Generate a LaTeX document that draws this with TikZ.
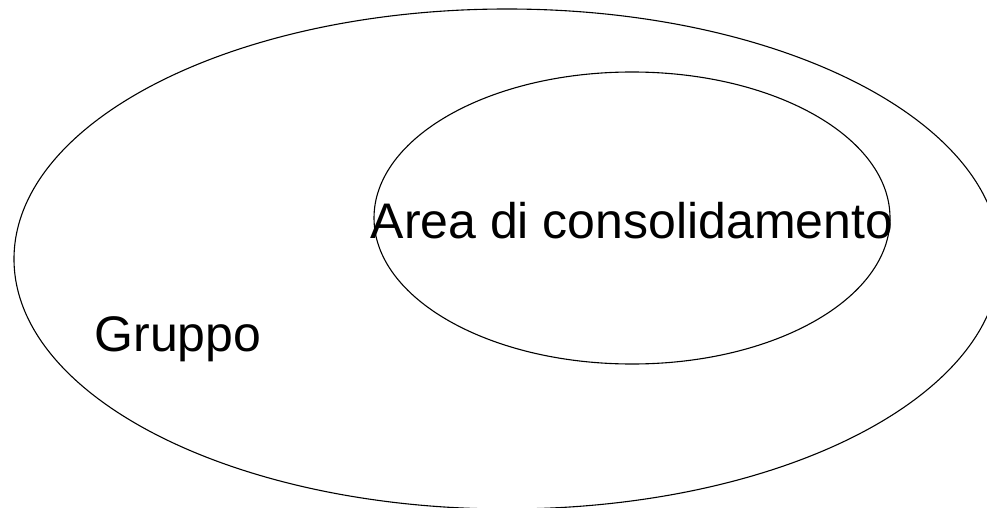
\documentclass[tikz,border=0pt]{standalone}
\usepackage{fontspec}
\setmainfont{Liberation Sans}
\usetikzlibrary{shapes.geometric}

\begin{document}
\begin{tikzpicture}[x=1pt,y=-1pt]
		\tikzstyle{every node}+=[inner sep=0pt]
		\tikzstyle{setta}=[draw=black,line width=1.1pt,ellipse]
		\tikzstyle{etichetta}=[font=\fontsize{50}{60}\selectfont,anchor=base]
		\useasboundingbox (0,0) rectangle (987,508);
		\begin{scope}
		\clip (0,0) rectangle (987,508);
		\node [setta,minimum width=986pt,minimum height=500pt] (gruppo) at (507,259) {};
		\end{scope}
		\node [setta,minimum width=516pt,minimum height=292pt] (area) at (632,218) {};
		\node [etichetta] (areatxt) at (632,238) {Area di consolidamento};
		\node [etichetta] (gruppotxt) at (178,351) {Gruppo};
\end{tikzpicture}
\end{document}
